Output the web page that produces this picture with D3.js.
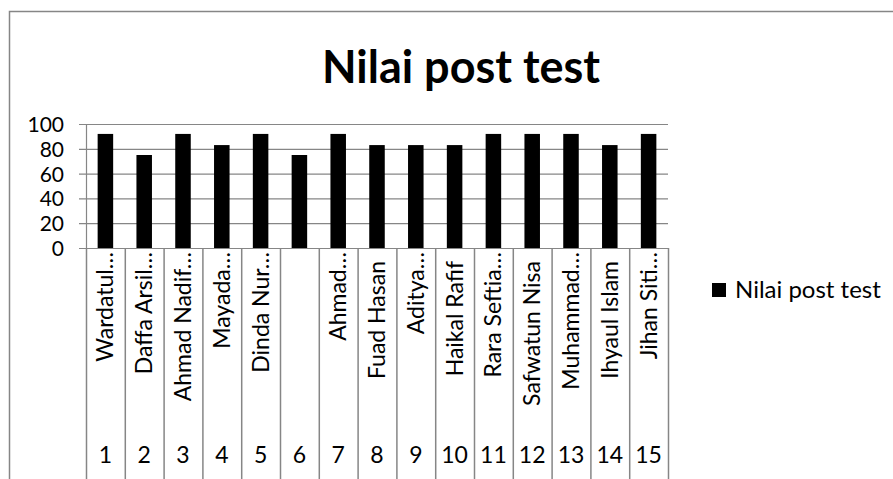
<!DOCTYPE html>
<html>
<head>
<meta charset="utf-8">
<script src="https://cdn.jsdelivr.net/npm/d3@7/dist/d3.min.js"></script>
<style>
  body { margin: 0; background: #fff; }
  text { font-family: Lato, "Open Sans", sans-serif; fill: #000; }
</style>
</head>
<body>
<div id="chart"></div>
<script>
// data
const numbers = ["1","2","3","4","5","6","7","8","9","10","11","12","13","14","15"]
const names = ["Wardatul…","Daffa Arsil…","Ahmad Nadif…","Mayada…","Dinda Nur…","",
  "Ahmad…","Fuad Hasan","Aditya…","Haikal Rafif","Rara Seftia…","Safwatun Nisa",
  "Muhammad…","Ihyaul Islam","Jihan Siti…"]
const scores = [92,75,92,83,92,75,92,83,83,83,92,92,92,83,92]
const yTicks = [0,20,40,60,80,100]
const title = "Nilai post test"
const seriesName = "Nilai post test"

const W = 893, H = 479
const margin = {top: 124, left: 86, right: 225, bottom: 231}
const plotW = W - margin.left - margin.right,
      plotH = H - margin.top - margin.bottom
const grey = "#868686"

const svg = d3.select("#chart").append("svg")
  .attr("width", W).attr("height", H)

// chart frame
svg.append("rect")
  .attr("x", 9.5).attr("y", 11.5)
  .attr("width", W + 20).attr("height", H + 20)
  .attr("fill", "none").attr("stroke", grey).attr("stroke-width", 1.5)

svg.append("text")
  .attr("x", 461).attr("y", 83)
  .attr("text-anchor", "middle")
  .style("font-size", "45px").style("font-weight", "bold")
  .text(title)

const g = svg.append("g")
  .attr("transform", `translate(${margin.left},${margin.top})`)

const x = d3.scaleBand().domain(numbers).range([0, plotW]).paddingInner(0.6).paddingOuter(0.3)
const xb = d3.scaleBand().domain(numbers).range([0, plotW])
const y = d3.scaleLinear().domain([0, 100]).range([plotH, 0])

// gridlines
g.append("g")
  .selectAll("line").data(yTicks).join("line")
    .attr("x1", -7).attr("x2", plotW)
    .attr("y1", d => y(d) + 0.5).attr("y2", d => y(d) + 0.5)
    .attr("stroke", grey).attr("stroke-width", 1.2)

// y axis
const yAxis = g.append("g")
  .call(d3.axisLeft(y).tickValues(yTicks).tickSize(0).tickPadding(22))
yAxis.select(".domain").attr("stroke", grey).attr("stroke-width", 1.2)
yAxis.selectAll("text").style("font-size", "21px").attr("dy", "0.36em")

// bars
g.selectAll(".bar").data(scores).join("rect")
  .attr("class", "bar")
  .attr("x", (d, i) => x(numbers[i]))
  .attr("width", x.bandwidth())
  .attr("y", d => y(d))
  .attr("height", d => y(0) - y(d))
  .attr("fill", "#000")

// category separators (multi-level axis)
const bounds = numbers.map(n => xb(n)).concat([plotW])
g.append("g").selectAll("line").data(bounds).join("line")
  .attr("x1", d => d + 0.5).attr("x2", d => d + 0.5)
  .attr("y1", plotH).attr("y2", H)
  .attr("stroke", grey).attr("stroke-width", 1.5)

// name labels, rotated
g.append("g").selectAll("text").data(names).join("text")
  .attr("transform", (d, i) => {
    const cx = xb(numbers[i]) + xb.bandwidth() / 2
    const top = plotH + (d.endsWith("…") ? 4 : 13)
    return `translate(${cx + 8},${top}) rotate(-90)`
  })
  .attr("text-anchor", "end")
  .style("font-size", "23px")
  .text(d => d)

// number labels
g.append("g").selectAll("text").data(numbers).join("text")
  .attr("x", d => xb(d) + xb.bandwidth() / 2)
  .attr("y", plotH + 215)
  .attr("text-anchor", "middle")
  .style("font-size", "23px")
  .text(d => d)

// legend
const lg = svg.append("g").attr("transform", "translate(712,283)")
lg.append("rect").attr("width", 14).attr("height", 14).attr("fill", "#000")
lg.append("text").attr("x", 23).attr("y", 15)
  .style("font-size", "24px").text(seriesName)
</script>
</body>
</html>
